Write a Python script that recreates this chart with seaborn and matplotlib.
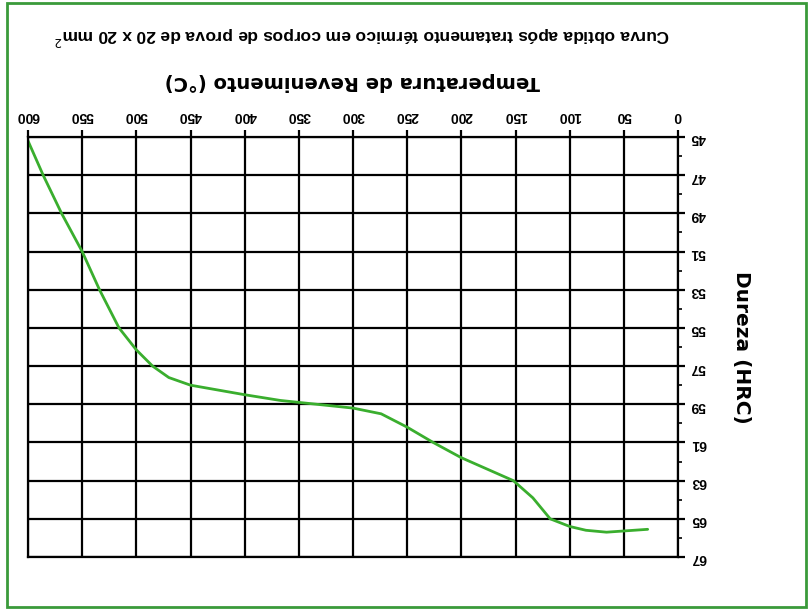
import matplotlib
matplotlib.use('Agg')
import matplotlib.pyplot as plt
import seaborn as sns
import pandas as pd
import numpy as np
from matplotlib.ticker import MultipleLocator
from matplotlib.patches import Rectangle

# curva de revenimento
temperatura = [600, 586, 569, 550, 534, 516, 500, 485, 470, 450, 400, 367, 300,
               274, 250, 226, 200, 152, 134, 118, 100, 85, 66, 28]
dureza = [45.2, 47.0, 49.0, 51.0, 53.0, 55.0, 56.15, 57.0, 57.6, 58.0, 58.5, 58.8, 59.2,
          59.5, 60.2, 61.0, 61.8, 63.0, 63.9, 65.0, 65.4, 65.6, 65.7, 65.55]
x_ticks = list(range(0, 601, 50))
y_ticks = list(range(45, 68, 2))

titulo_x = 'Temperatura de Revenimento (°C)'
titulo_y = 'Dureza (HRC)'
legenda = 'Curva obtida após tratamento térmico em corpos de prova de 20 x 20 mm$^2$'

sns.set_theme(style='white')
plt.rcParams['font.family'] = ['Liberation Sans', 'DejaVu Sans']

df = pd.DataFrame({'temperatura': temperatura, 'dureza': dureza})

fig = plt.figure(figsize=(8.08, 6.14), dpi=100)
ax = fig.add_axes([28 / 808, 1 - 557 / 614, 650 / 808, 420 / 614])

sns.lineplot(data=df, x='temperatura', y='dureza', ax=ax,
             color='#3aae2e', linewidth=2, sort=False)

ax.set_xlim(0, 600)
ax.set_ylim(45, 67)
# a figura original esta de cabeca para baixo
ax.invert_xaxis()
ax.invert_yaxis()

ax.set_xticks(x_ticks)
ax.set_yticks(y_ticks)
ax.yaxis.set_minor_locator(MultipleLocator(1))
ax.xaxis.tick_top()
ax.yaxis.tick_right()
ax.grid(True, which='major', color='black', linewidth=1.6)
for s in ax.spines.values():
    s.set_color('black')
    s.set_linewidth(1.6)

ax.tick_params(axis='x', which='major', top=True, bottom=False, length=5, width=1.6,
               pad=5, labelsize=10, labelrotation=180, colors='black')
ax.tick_params(axis='y', which='major', right=True, left=False, length=5, width=1.6,
               pad=4, labelsize=10, labelrotation=180, colors='black')
ax.tick_params(axis='y', which='minor', right=True, left=False, length=3, width=1.2,
               colors='black')
for lbl in ax.get_xticklabels() + ax.get_yticklabels():
    lbl.set_fontweight('bold')

ax.set_xlabel(titulo_x, fontsize=14, fontweight='bold', rotation=180, color='black',
              family=['DejaVu Sans'])
ax.xaxis.set_label_coords((352 - 28) / 650, (557 - 72) / 420)
ax.set_ylabel(titulo_y, fontsize=14.5, fontweight='bold', rotation=270, color='black',
              va='center', family=['DejaVu Sans'])
ax.yaxis.set_label_coords((741 - 28) / 650, (557 - 347) / 420)

fig.text(362 / 808, 1 - 36 / 614, legenda, fontsize=12.5, fontweight='bold',
         rotation=180, ha='center', va='center', color='black')

fig.patches.append(Rectangle((7 / 808, 1 - 607 / 614), 799 / 808, 604 / 614,
                             transform=fig.transFigure, fill=False,
                             edgecolor='#3a9a3a', linewidth=2))

fig.savefig('out.png', dpi=100)
